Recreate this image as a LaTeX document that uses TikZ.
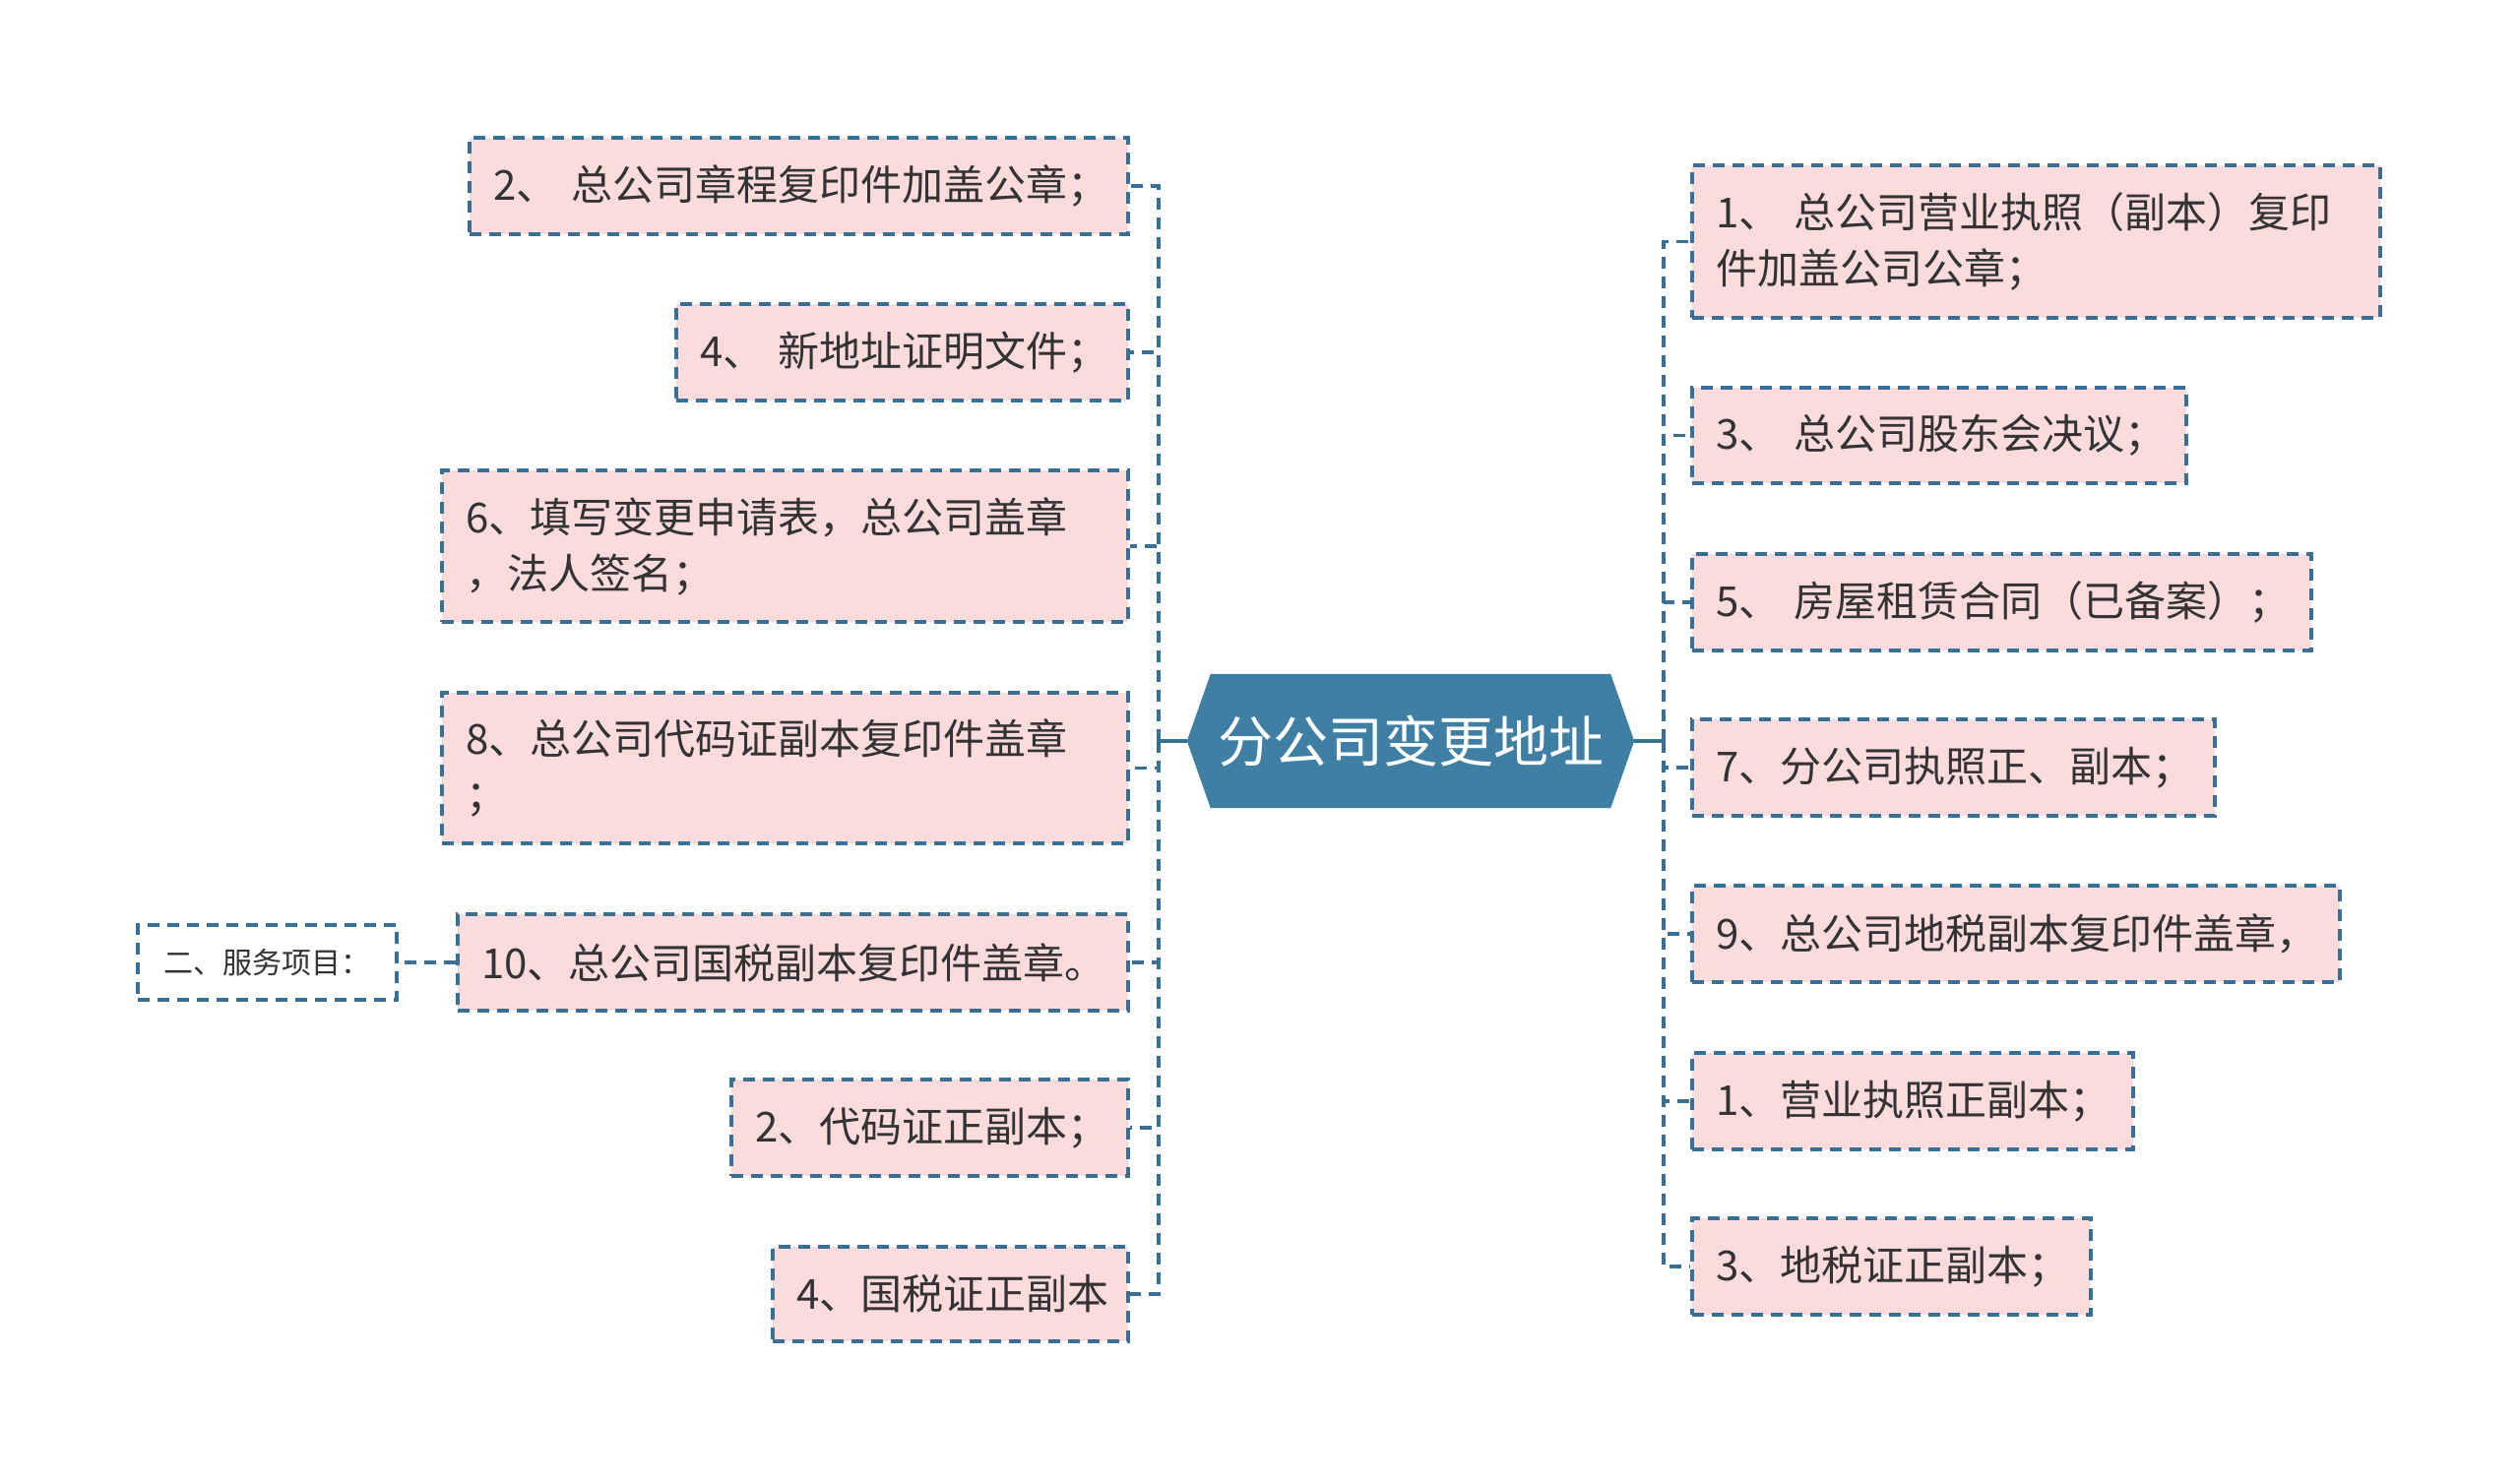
\documentclass[tikz,border=0pt]{standalone}
\usepackage{fontspec}
\setmainfont{Noto Sans CJK SC}
\usetikzlibrary{backgrounds}
\definecolor{rootc}{HTML}{3F7FA4}
\definecolor{linec}{HTML}{386F94}
\definecolor{boxfill}{HTML}{FBDBDB}
\definecolor{txtc}{HTML}{333333}
\tikzset{
 leaf/.style={rectangle, draw=linec, fill=boxfill, line width=3.5pt, dash pattern=on 12pt off 8pt, inner xsep=24pt, inner ysep=0pt, align=left, text=txtc, font=\fontsize{42}{57}\selectfont},
 plainbox/.style={leaf, fill=white, align=center, font=\fontsize{30}{40}\selectfont},
 conn/.style={draw=linec, line width=3.5pt, dash pattern=on 12pt off 8pt},
 sconn/.style={draw=linec, line width=3.5pt},
}
\newcommand\mybox[7]{%
 \pgfmathsetmacro\bw{#5-#3}%
 \pgfmathsetmacro\bh{#6-#4}%
 \pgfmathsetmacro\tw{#5-#3-48}%
 \node[#2, minimum width=\bw pt, minimum height=\bh pt, text width=\tw pt] (#1) at ({(#3+#5)/2},{(#4+#6)/2}) {#7};}
\begin{document}
\begin{tikzpicture}[x=1pt,y=-1pt]
\useasboundingbox (0,0) rectangle (2560,1506);
% root
\node[font=\fontsize{56}{60}\selectfont, text=white, minimum width=454pt, minimum height=136pt, inner sep=0pt] (root) at (1433,753) {分公司变更地址};
% left
\mybox{L1}{leaf}{477}{140}{1146}{238}{2、~总公司章程复印件加盖公章；}
\mybox{L2}{leaf}{687}{309}{1146}{407}{4、~新地址证明文件；}
\mybox{L3}{leaf}{449}{478}{1146}{632}{6、填写变更申请表，总公司盖章\\，法人签名；}
\mybox{L4}{leaf}{449}{704}{1146}{857}{8、总公司代码证副本复印件盖章\\；}
\mybox{L5}{leaf}{465}{929}{1146}{1027}{10、总公司国税副本复印件盖章。}
\mybox{L6}{leaf}{743}{1097}{1146}{1195}{2、代码证正副本；}
\mybox{L7}{leaf}{785}{1267}{1146}{1363}{4、国税证正副本}
\mybox{S}{plainbox}{140}{940}{403}{1016}{二、服务项目：}
% right
\mybox{R1}{leaf}{1719}{168}{2418}{323}{1、~总公司营业执照（副本）复印\\件加盖公司公章；}
\mybox{R2}{leaf}{1719}{394}{2221}{491}{3、~总公司股东会决议；}
\mybox{R3}{leaf}{1719}{563}{2348}{661}{5、~房屋租赁合同（已备案）；}
\mybox{R4}{leaf}{1719}{731}{2250}{829}{7、分公司执照正、副本；}
\mybox{R5}{leaf}{1719}{900}{2377}{998}{9、总公司地税副本复印件盖章，}
\mybox{R6}{leaf}{1719}{1070}{2167}{1168}{1、营业执照正副本；}
\mybox{R7}{leaf}{1719}{1238}{2124}{1336}{3、地税证正副本；}
% connectors
\coordinate (lj) at (1177,753);
\coordinate (rj) at (1690,753);
\draw[sconn] (root.west) -- (lj);
\draw[sconn] (root.east) -- (rj);
\foreach \n in {L1,L2,L3,L4,L5,L6,L7} \draw[conn] (lj) |- (\n.east);
\foreach \n in {R1,R2,R3,R4,R5,R6,R7} \draw[conn] (rj) |- (\n.west);
\draw[conn] (L5.west) -- (S.east);
\begin{scope}[on background layer]
\fill[white] (0,0) rectangle (2560,1506);
\fill[rootc] ([xshift=24pt]root.north west) -- ([xshift=-24pt]root.north east) -- (root.east) -- ([xshift=-24pt]root.south east) -- ([xshift=24pt]root.south west) -- (root.west) -- cycle;
\end{scope}
\end{tikzpicture}
\end{document}
